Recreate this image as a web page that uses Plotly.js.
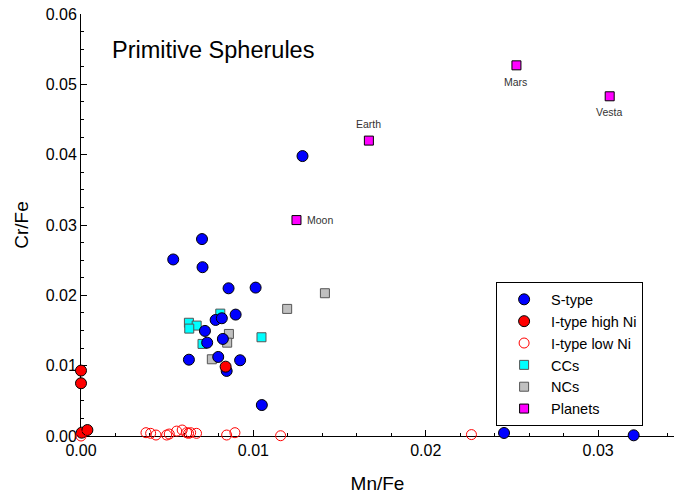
<!DOCTYPE html>
<html>
<head>
<meta charset="utf-8">
<script src="https://cdn.plot.ly/plotly-3.0.1.min.js"></script>
<style>html,body{margin:0;padding:0;background:#fff}#chart{width:674px;height:495px}</style>
</head>
<body>
<div id="chart"></div>
<script>
// S-type spherules
const sTypeX = [0.01285, 0.00535, 0.00702, 0.00705, 0.00856, 0.01013, 0.00897, 0.00781, 0.00817, 0.00719, 0.00732, 0.00823, 0.00626, 0.00796, 0.00923, 0.00845, 0.01049, 0.02454, 0.03206];
const sTypeY = [0.0398, 0.0251, 0.0280, 0.0240, 0.0210, 0.0211, 0.01726, 0.0165, 0.01674, 0.01494, 0.01327, 0.0138, 0.01085, 0.01124, 0.01077, 0.00925, 0.0044, 0.00043, 0.0001];
// I-type high Ni
const iHighX = [0.00839, 0.0, 0.0, 0.00004, 0.00037];
const iHighY = [0.00986, 0.0093, 0.0075, 0.00047, 0.00085];
// I-type low Ni
const iLowX = [0.0, 0.00377, 0.00404, 0.00435, 0.00497, 0.00512, 0.00555, 0.00587, 0.00613, 0.00624, 0.00636, 0.0067, 0.00845, 0.00893, 0.01158, 0.02265];
const iLowY = [0.0, 0.00047, 0.00038, 0.00014, 0.00014, 0.00028, 0.0007, 0.00085, 0.00047, 0.00038, 0.00047, 0.00038, 0.00014, 0.00047, 0.00004, 0.0002];
// Carbonaceous chondrites
const ccX = [0.00808, 0.00626, 0.00671, 0.00628, 0.00705, 0.01047];
const ccY = [0.0174, 0.0161, 0.0157, 0.01527, 0.01309, 0.01404];
// Non-carbonaceous chondrites
const ncX = [0.01196, 0.01415, 0.00858, 0.00848, 0.00759];
const ncY = [0.01807, 0.0203, 0.01451, 0.01327, 0.01091];
// Planets
const planetNames = ["Moon", "Earth", "Mars", "Vesta"];
const planetX = [0.0125, 0.0167, 0.02526, 0.03067];
const planetY = [0.0307, 0.0420, 0.0527, 0.0483];

const xTicks = [0, 0.01, 0.02, 0.03];
const yTicks = [0, 0.01, 0.02, 0.03, 0.04, 0.05, 0.06];

const FONT = "Liberation Sans, Arial, sans-serif";
const outline = {color: "#000", width: 1};

// label placement for planet names (style only)
const labelStyle = [
  {xanchor: "left", yanchor: "middle", xshift: 9, yshift: 0},
  {xanchor: "center", yanchor: "middle", xshift: 0, yshift: 17},
  {xanchor: "center", yanchor: "middle", xshift: -1, yshift: -17},
  {xanchor: "center", yanchor: "middle", xshift: -1, yshift: -16}
];

const traces = [
  {x: ccX, y: ccY, name: "CCs", mode: "markers", type: "scatter", legendrank: 4, cliponaxis: false,
   marker: {symbol: "square", size: 9, color: "#00ffff", line: {color: "#555", width: 1}}},
  {x: ncX, y: ncY, name: "NCs", mode: "markers", type: "scatter", legendrank: 5, cliponaxis: false,
   marker: {symbol: "square", size: 9, color: "#c0c0c0", line: {color: "#555", width: 1}}},
  {x: planetX, y: planetY, name: "Planets", mode: "markers", type: "scatter", legendrank: 6, cliponaxis: false,
   marker: {symbol: "square", size: 9, color: "#ff00ff", line: outline}},
  {x: sTypeX, y: sTypeY, name: "S-type", mode: "markers", type: "scatter", legendrank: 1, cliponaxis: false,
   marker: {symbol: "circle", size: 11, color: "#0000ff", line: outline}},
  {x: iHighX, y: iHighY, name: "I-type high Ni", mode: "markers", type: "scatter", legendrank: 2, cliponaxis: false,
   marker: {symbol: "circle", size: 11, color: "#ff0000", line: outline}},
  {x: iLowX, y: iLowY, name: "I-type low Ni", mode: "markers", type: "scatter", legendrank: 3, cliponaxis: false,
   marker: {symbol: "circle-open", size: 10, color: "#ff0000", line: {color: "#ff0000", width: 1}}}
];

const annotations = [{text: "Primitive Spherules", xref: "paper", yref: "paper", x: 0.222, y: 0.915,
                 xanchor: "center", yanchor: "middle", showarrow: false,
                 font: {family: FONT, size: 23.5, color: "#000"}}];
planetNames.forEach((name, i) => {
  annotations.push(Object.assign({text: name, x: planetX[i], y: planetY[i], xref: "x", yref: "y",
    showarrow: false, font: {family: FONT, size: 10.5, color: "#333"}}, labelStyle[i]));
});

const layout = {
  width: 674, height: 495,
  margin: {l: 81, r: 0, t: 14, b: 59},
  paper_bgcolor: "#fff", plot_bgcolor: "#fff",
  font: {family: FONT, size: 16, color: "#000"},
  showlegend: true,
  legend: {x: 0.70, y: 0.364, xanchor: "left", yanchor: "top", bgcolor: "#fff", itemwidth: 44,
           bordercolor: "#000", borderwidth: 1, font: {family: FONT, size: 14.5}, tracegroupgap: 0},
  xaxis: {range: [0, 0.0344], tickvals: xTicks, tickformat: ".2f", ticks: "inside", ticklen: 6,
          tickcolor: "#000", showline: true, linecolor: "#000", linewidth: 1, showgrid: false,
          zeroline: false, layer: "below traces",
          minor: {dtick: 0.002, tick0: 0, ticks: "inside", ticklen: 3, tickcolor: "#000", showgrid: false},
          tickfont: {family: FONT, size: 16},
          title: {text: "Mn/Fe", font: {family: FONT, size: 19}, standoff: 18}},
  yaxis: {range: [0, 0.06], tickvals: yTicks, tickformat: ".2f", ticks: "inside", ticklen: 6,
          tickcolor: "#000", showline: true, linecolor: "#000", linewidth: 1, showgrid: false,
          zeroline: false, layer: "below traces",
          minor: {dtick: 0.0025, tick0: 0, ticks: "inside", ticklen: 3, tickcolor: "#000", showgrid: false},
          tickfont: {family: FONT, size: 16},
          title: {text: "Cr/Fe", font: {family: FONT, size: 19}, standoff: 12}},
  annotations: annotations
};

Plotly.newPlot("chart", traces, layout, {displayModeBar: false, staticPlot: true});
</script>
</body>
</html>
